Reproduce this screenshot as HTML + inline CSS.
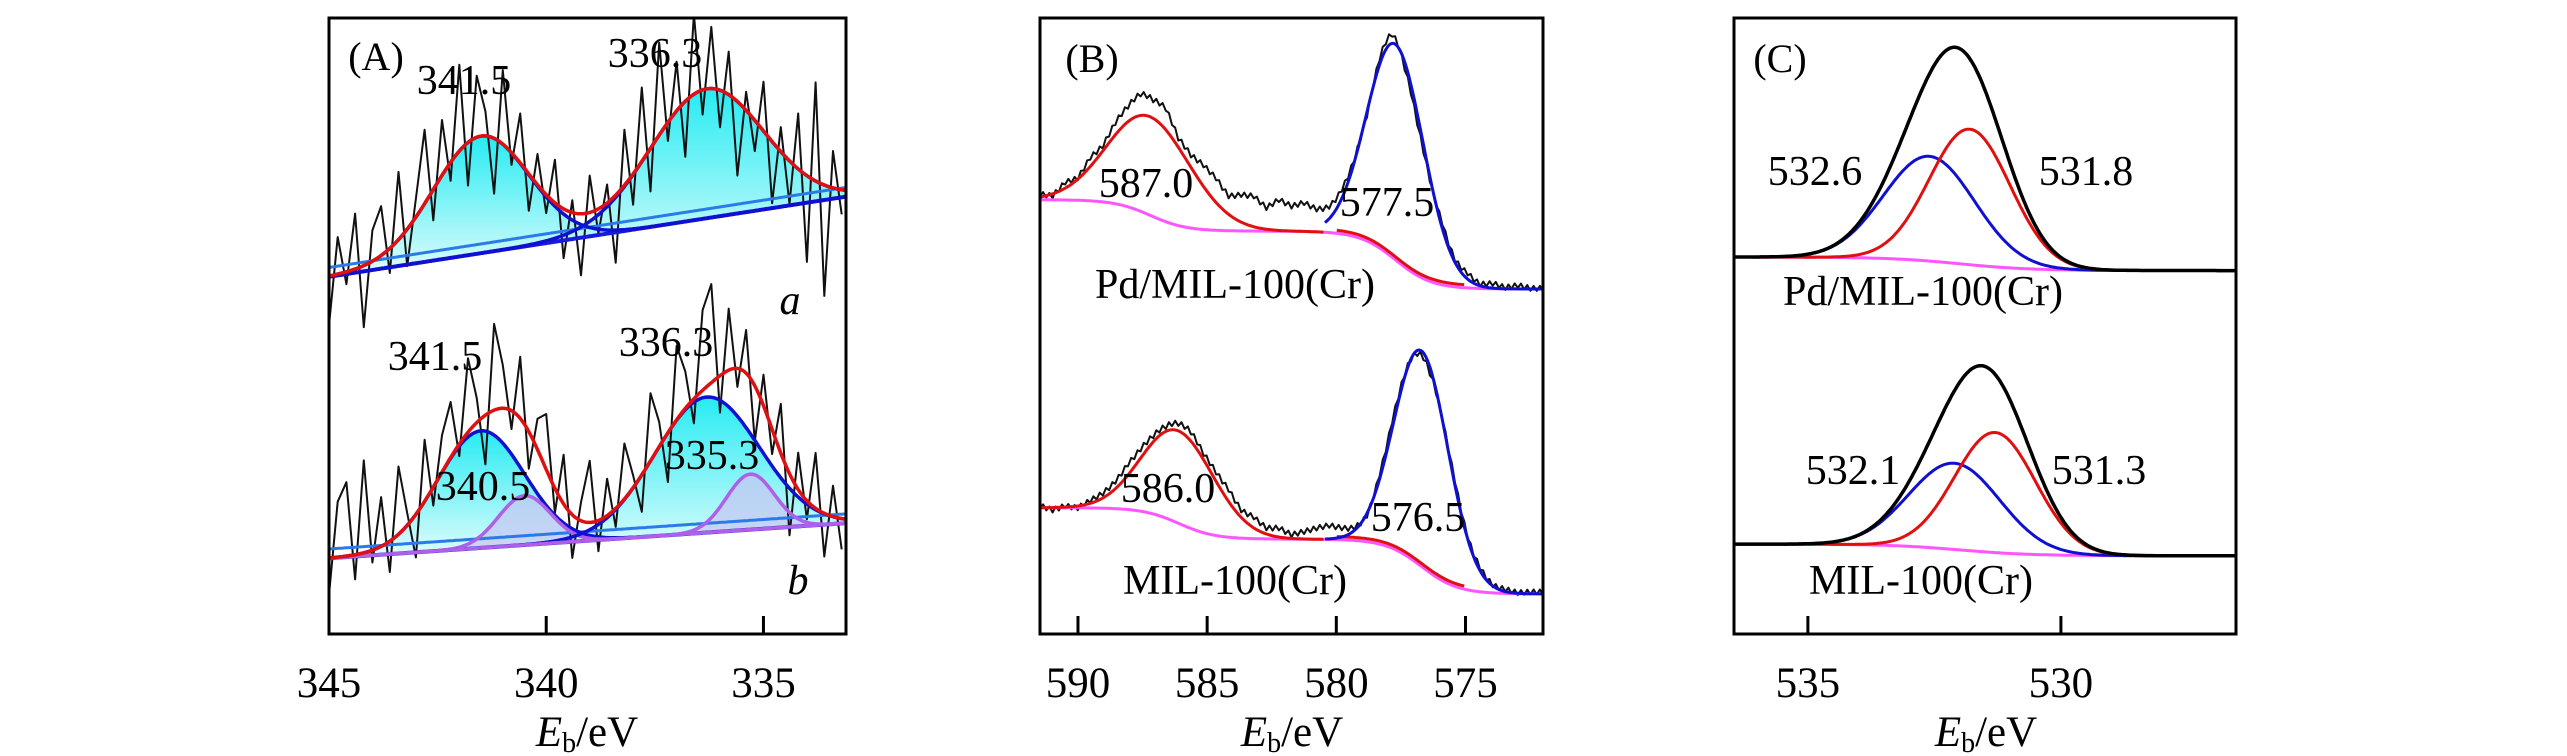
<!DOCTYPE html>
<html><head><meta charset="utf-8">
<style>
html,body{margin:0;padding:0;background:#fff;}
svg{display:block;}
text{font-family:"Liberation Serif","DejaVu Serif",serif;fill:#000;}
</style></head>
<body>
<svg id="chart" width="2567" height="756" viewBox="0 0 2567 756" xmlns="http://www.w3.org/2000/svg">
<defs>
<linearGradient id="cyanGrad" x1="0" y1="0" x2="0" y2="1">
<stop offset="0" stop-color="#00e8f0"/>
<stop offset="1" stop-color="#e0fcfc"/>
</linearGradient>
</defs>
</svg>
<script>
// ---------- Panel A data (Pd 3d) ----------
const aTicks = [340, 335];
const aTickLabels = ["345", "340", "335"];
const aTickLabelVals = [345, 340, 335];
const aTopCenters = [341.5, 336.3];
const aTopHeights = [19, 21];
const aTopWidths = [1.1, 1.3];
const aTopBase = [58, 71];
const aBotCenters = [341.5, 340.5, 336.3, 335.3];
const aBotHeights = [19, 8, 22, 9];
const aBotWidths = [1.0, 0.6, 1.2, 0.55];
const aBotBase = [12.3, 18];
const aTopResid = [-8,6,-2,9,-10,5,8,-4,11,-6,3,12,-5,9,-3,14,-7,10,4,-9,12,-2,8,-6,5,-3,7,-8,2,-10,6,-4,3,-11,9,-5,12,-7,15,-3,8,-9,13,-4,10,-6,7,-12,3,-5,8,-10,4,-7,9,-14,16,-18,6,-4];
const aBotResid = [-6,9,12,-4,15,-2,8,-5,11,2,-7,10,-3,6,9,-2,12,4,-8,14,7,-3,10,-6,5,9,-4,8,-7,3,10,-5,6,-3,9,2,-6,11,4,-8,12,6,-4,13,16,-6,10,-3,7,-9,5,-4,8,-10,6,-3,9,-7,5,-5];
// ---------- Panel B data (Cr 2p) ----------
const bTicks = [590, 585, 580, 575];
const bTopCenters = [587.2, 577.7];
const bTopHeights = [16, 35];
const bTopWidths = [1.6, 1.1];
const bTopBaseRight = 56;
const bTopSteps = [5.1, 9.4];
const bBotCenters = [586.1, 576.7];
const bBotHeights = [15, 35];
const bBotWidths = [1.4, 1.05];
const bBotBaseRight = 6.5;
const bBotSteps = [5.1, 8.9];
const bTopResid = [0.5,-0.3,1,0.2,1.5,0.8,2,2.5,3.5,3,3.5,1.5,2,3.5,4,3,4.5,5,3.5,5,4,4.5,3,2,1.5,0.5,-0.5,1,1.5,-1,-1.5,-0.5,1,0.5,1,0.3,0.8,0.2,0.6,0.1];
const bBotResid = [0.3,-0.4,0.2,-0.3,0.5,0.8,1.2,1.8,1.5,1,0.8,1.2,1.5,1,1.5,2,1.2,1.8,1,1.5,0.6,1.2,1.8,2.2,1.5,0.5,-0.3,0.8,1.2,0.5,-0.5,-1,0.3,0.8,0.4,0.6,0.2,0.4,0.1,0.3];
// ---------- Panel C data (O 1s) ----------
const cTicks = [535, 530];
const cTopCenters = [532.6, 531.8];
const cTopHeights = [17, 22];
const cTopWidths = [0.9, 0.8];
const cTopBase = [61.2, 59];
const cBotCenters = [532.1, 531.3];
const cBotHeights = [14, 19.5];
const cBotWidths = [0.9, 0.8];
const cBotBase = [14.6, 12.7];

const NS = "http://www.w3.org/2000/svg";
const svg = document.getElementById("chart");
const Y0 = 634, Y1 = 18;
function mk(tag, attrs, parent) {
  const el = document.createElementNS(NS, tag);
  for (const k in attrs) el.setAttribute(k, attrs[k]);
  (parent || svg).appendChild(el);
  return el;
}
function lin(d0, d1, r0, r1) { return v => r0 + (v - d0) * (r1 - r0) / (d1 - d0); }
const ys = lin(0, 100, Y0, Y1);
function gauss(x, c, s, h) { return h * Math.exp(-((x - c) * (x - c)) / (2 * s * s)); }
function erfc01(z) { return 1 / (1 + Math.exp(-1.7 * z)); }
function pathOf(xsArr, fn, sx) {
  let d = "";
  xsArr.forEach((x, i) => { d += (i ? "L" : "M") + sx(x).toFixed(1) + "," + ys(fn(x)).toFixed(1); });
  return d;
}
function grid(a, b, n) { const r = []; for (let i = 0; i <= n; i++) r.push(a + (b - a) * i / n); return r; }
function txt(x, y, s, size, name, anchor, extra) {
  const t = mk("text", Object.assign({ x: x, y: y, "font-size": size, "text-anchor": anchor || "middle" }, extra || {}));
  t.textContent = s;
  
  
  return t;
}
function frame(x0, x1, name, ticks, sx) {
  const g = mk("g", {});
  
  
  ticks.forEach(t => {
    const tk = mk("line", { x1: sx(t), x2: sx(t), y1: Y0, y2: Y0 - 18, stroke: "#000", "stroke-width": 3 }, g);
    
    
  });
  const r = mk("rect", { x: x0, y: Y1, width: x1 - x0, height: Y0 - Y1, fill: "none", stroke: "#000", "stroke-width": 3 }, g);
  
  
  return g;
}
function line(d, color, w, name, clip) {
  const p = mk("path", { d: d, fill: "none", stroke: color, "stroke-width": w, "stroke-linejoin": "round", "clip-path": clip });
  
  
  return p;
}
function clipFor(id, x0, x1) {
  const cp = mk("clipPath", { id: id }, svg.querySelector("defs"));
  mk("rect", { x: x0, y: Y1, width: x1 - x0, height: Y0 - Y1 }, cp);
  return "url(#" + id + ")";
}

// ================= Panel A =================
(function () {
  const X0 = 329, X1 = 846;
  const sx = lin(345, 333.1, X0, X1);
  const clip = clipFor("clipA", X0, X1);
  const xs = grid(345, 333.1, 300);
  function drawSpec(centers, heights, widths, base, resid, tag, fillColors, lineColors) {
    const bg = x => base[0] + (base[1] - base[0]) * (345 - x) / (345 - 333.1);
    centers.forEach((c, i) => {
      const f = x => bg(x) + gauss(x, c, widths[i], heights[i]);
      let d = pathOf(xs, f, sx);
      d += "L" + sx(333.1) + "," + ys(bg(333.1)) + "L" + sx(345) + "," + ys(bg(345)) + "Z";
      const fp = mk("path", { d: d, fill: fillColors[i], "fill-opacity": fillColors[i] === "url(#cyanGrad)" ? 0.85 : 0.7, stroke: "none", "clip-path": clip });
      
      
    });
    const rx = resid.map((_, i) => 345 - i * 0.2);
    const sum = x => bg(x) + centers.reduce((s, c, i) => s + gauss(x, c, widths[i], heights[i]), 0);
    let d = "";
    rx.forEach((x, i) => { d += (i ? "L" : "M") + sx(x).toFixed(1) + "," + ys(sum(x) + resid[i]).toFixed(1); });
    line(d, "#111", 2, tag + "-raw-spectrum", clip);
    line(pathOf(xs, bg, sx), "#1a1adf", 4, tag + "-background", clip);
    line(pathOf(xs, x => bg(x) + 1.5, sx), "#2a7ae8", 3, tag + "-background-2", clip);
    centers.forEach((c, i) => {
      line(pathOf(xs, x => bg(x) + gauss(x, c, widths[i], heights[i]), sx), lineColors[i], 3.5, tag + "-component-" + c, clip);
    });
    line(pathOf(xs, sum, sx), "#e01010", 3.5, tag + "-fit-envelope", clip);
  }
  drawSpec(aTopCenters, aTopHeights, aTopWidths, aTopBase, aTopResid, "a", ["url(#cyanGrad)", "url(#cyanGrad)"], ["#1010d0", "#1010d0"]);
  drawSpec(aBotCenters, aBotHeights, aBotWidths, aBotBase, aBotResid, "b", ["url(#cyanGrad)", "#c8c4f2", "url(#cyanGrad)", "#c8c4f2"], ["#1010d0", "#b060e8", "#1010d0", "#b060e8"]);
  frame(X0, X1, "panel-a-frame", aTicks, sx);
  aTickLabelVals.forEach((v, i) => txt(sx(v), 697, aTickLabels[i], 43, "x-tick-label"));
  const t = txt(587, 746, "", 43, "x-axis-title");
  const e = document.createElementNS(NS, "tspan"); e.setAttribute("font-style", "italic"); e.textContent = "E"; t.appendChild(e);
  const s = document.createElementNS(NS, "tspan"); s.setAttribute("font-size", "28"); s.setAttribute("dy", "6"); s.textContent = "b"; t.appendChild(s);
  const r = document.createElementNS(NS, "tspan"); r.setAttribute("dy", "-6"); r.textContent = "/eV"; t.appendChild(r);
  txt(376, 70, "(A)", 40, "panel-label-a");
  txt(464, 94, "341.5", 42, "peak-label-341-5-a");
  txt(655, 67, "336.3", 42, "peak-label-336-3-a");
  txt(790, 314, "a", 42, "curve-label-a", "middle", { "font-style": "italic" });
  txt(435, 370, "341.5", 42, "peak-label-341-5-b");
  txt(666, 356, "336.3", 42, "peak-label-336-3-b");
  txt(483, 500, "340.5", 42, "peak-label-340-5");
  txt(712, 469, "335.3", 42, "peak-label-335-3");
  txt(798, 594, "b", 42, "curve-label-b", "middle", { "font-style": "italic" });
})();

// ================= Panel B =================
(function () {
  const X0 = 1040, X1 = 1543;
  const sx = lin(591.47, 572.0, X0, X1);
  const clip = clipFor("clipB", X0, X1);
  const xs = grid(591.47, 572.0, 300);
  function drawSpec(centers, heights, widths, baseRight, steps, resid, tag) {
    const bg = x => baseRight + centers.reduce((s, c, i) => s + steps[i] * erfc01((x - c) / 1.2), 0);
    const sum = x => bg(x) + centers.reduce((s, c, i) => s + gauss(x, c, widths[i], heights[i]), 0);
    const rx = grid(591.47, 572.0, 160);
    let d = "";
    rx.forEach((x, i) => {
      const k = Math.min(resid.length - 1, Math.floor(i / 4));
      const k2 = Math.min(resid.length - 1, k + 1);
      const f = (i % 4) / 4;
      const r = resid[k] * (1 - f) + resid[k2] * f + ((i % 2) ? 0.4 : -0.4);
      d += (i ? "L" : "M") + sx(x).toFixed(1) + "," + ys(sum(x) + r).toFixed(1);
    });
    line(d, "#111", 2, tag + "-raw-spectrum", clip);
    line(pathOf(xs, bg, sx), "#ff55ff", 3, tag + "-background", clip);
    const left = xs.filter(x => x >= 580.5), right = xs.filter(x => x <= 580.5);
    line(pathOf(left, x => bg(x) + gauss(x, centers[0], widths[0], heights[0]), sx), "#e01010", 3, tag + "-fit-cr-satellite", clip);
    line(pathOf(xs.filter(x => x <= 580 && x >= 575), x => bg(x) + 0.5, sx), "#e01010", 3, tag + "-fit-bg-segment", clip);
    line(pathOf(right, x => bg(x) + gauss(x, centers[1], widths[1], heights[1]), sx), "#1010d0", 3, tag + "-fit-cr-2p3", clip);
  }
  drawSpec(bTopCenters, bTopHeights, bTopWidths, bTopBaseRight, bTopSteps, bTopResid, "pd-mil");
  drawSpec(bBotCenters, bBotHeights, bBotWidths, bBotBaseRight, bBotSteps, bBotResid, "mil");
  frame(X0, X1, "panel-b-frame", bTicks, sx);
  bTicks.forEach(v => txt(sx(v), 697, String(v), 43, "x-tick-label"));
  const t = txt(1292, 746, "", 43, "x-axis-title");
  const e = document.createElementNS(NS, "tspan"); e.setAttribute("font-style", "italic"); e.textContent = "E"; t.appendChild(e);
  const s = document.createElementNS(NS, "tspan"); s.setAttribute("font-size", "28"); s.setAttribute("dy", "6"); s.textContent = "b"; t.appendChild(s);
  const r = document.createElementNS(NS, "tspan"); r.setAttribute("dy", "-6"); r.textContent = "/eV"; t.appendChild(r);
  txt(1092, 72, "(B)", 40, "panel-label-b");
  txt(1146, 197, "587.0", 42, "peak-label-587-0");
  txt(1387, 216, "577.5", 42, "peak-label-577-5");
  txt(1235, 298, "Pd/MIL-100(Cr)", 42, "sample-label-pd-mil");
  txt(1168, 502, "586.0", 42, "peak-label-586-0");
  txt(1418, 531, "576.5", 42, "peak-label-576-5");
  txt(1235, 594, "MIL-100(Cr)", 42, "sample-label-mil");
})();

// ================= Panel C =================
(function () {
  const X0 = 1734, X1 = 2236;
  const sx = lin(536.46, 526.54, X0, X1);
  const clip = clipFor("clipC", X0, X1);
  const xs = grid(536.46, 526.54, 300);
  function drawSpec(centers, heights, widths, base, tag) {
    const bg = x => base[1] + (base[0] - base[1]) * erfc01((x - 532) / 1.2);
    const sum = x => bg(x) + centers.reduce((s, c, i) => s + gauss(x, c, widths[i], heights[i]), 0);
    line(pathOf(xs, bg, sx), "#ff55ff", 3, tag + "-background", clip);
    line(pathOf(xs, x => bg(x) + gauss(x, centers[0], widths[0], heights[0]), sx), "#1010d0", 3, tag + "-component-" + centers[0], clip);
    line(pathOf(xs, x => bg(x) + gauss(x, centers[1], widths[1], heights[1]), sx), "#e01010", 3, tag + "-component-" + centers[1], clip);
    line(pathOf(xs, sum, sx), "#000", 3.5, tag + "-spectrum", clip);
  }
  drawSpec(cTopCenters, cTopHeights, cTopWidths, cTopBase, "pd-mil");
  drawSpec(cBotCenters, cBotHeights, cBotWidths, cBotBase, "mil");
  frame(X0, X1, "panel-c-frame", cTicks, sx);
  cTicks.forEach(v => txt(sx(v), 697, String(v), 43, "x-tick-label"));
  const t = txt(1986, 746, "", 43, "x-axis-title");
  const e = document.createElementNS(NS, "tspan"); e.setAttribute("font-style", "italic"); e.textContent = "E"; t.appendChild(e);
  const s = document.createElementNS(NS, "tspan"); s.setAttribute("font-size", "28"); s.setAttribute("dy", "6"); s.textContent = "b"; t.appendChild(s);
  const r = document.createElementNS(NS, "tspan"); r.setAttribute("dy", "-6"); r.textContent = "/eV"; t.appendChild(r);
  txt(1780, 72, "(C)", 40, "panel-label-c");
  txt(1815, 185, "532.6", 42, "peak-label-532-6");
  txt(2086, 185, "531.8", 42, "peak-label-531-8");
  txt(1923, 305, "Pd/MIL-100(Cr)", 42, "sample-label-pd-mil");
  txt(1853, 484, "532.1", 42, "peak-label-532-1");
  txt(2099, 484, "531.3", 42, "peak-label-531-3");
  txt(1921, 594, "MIL-100(Cr)", 42, "sample-label-mil");
})();
</script>
</body></html>
